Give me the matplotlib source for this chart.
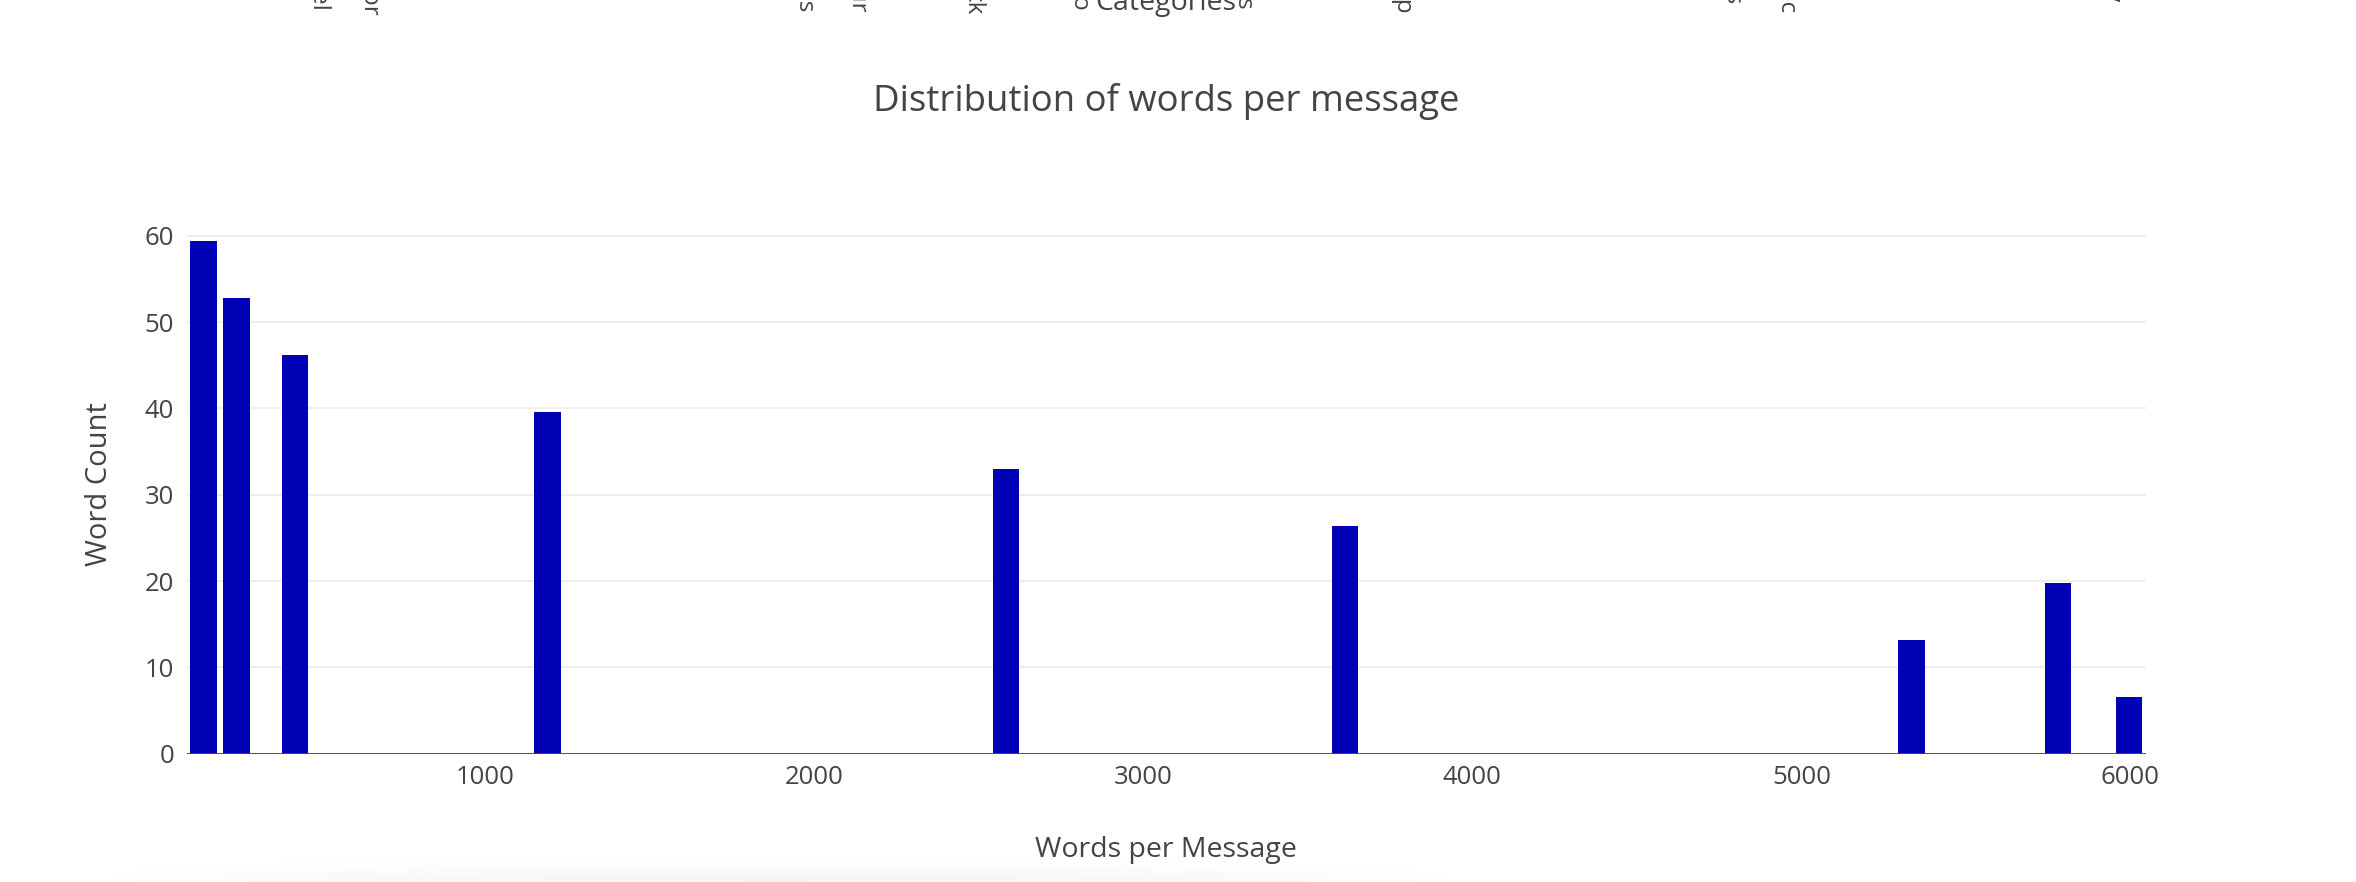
import matplotlib
matplotlib.use("Agg")
import matplotlib.pyplot as plt
import numpy as np

# words-per-message bins (bar centres) and counts
words_per_message = [143, 244, 422, 1189, 2582, 3613, 5334, 5780, 5996]
word_count = [59.4, 52.8, 46.2, 39.6, 33.0, 26.4, 13.2, 19.8, 6.6]
x_ticks = [1000, 2000, 3000, 4000, 5000, 6000]
y_ticks = [0, 10, 20, 30, 40, 50, 60]

# leftovers of the chart above, clipped at the top edge: (x px, bottom px, text)
clipped_labels = [(268, 2, "l_"), (317, 13, "rel"), (370, 15, "vor"), (642, 2, "ng"),
                  (804, 13, "sis"), (857, 14, "our"), (973, 15, "ck"), (1078, 12, "io"),
                  (1242, 12, "ns"), (1403, 13, "_p"), (1732, 5, "es"), (1786, 14, "doc"),
                  (2112, 2, "gy")]

W, H = 2356, 882
plt.rcParams["font.family"] = ["Open Sans", "DejaVu Sans"]
fig = plt.figure(figsize=(W / 100, H / 100), dpi=100)

# faint shadow at the bottom edge (drawn underneath everything)
gax = fig.add_axes([0, 0, 1, 24 / H], zorder=-5)
gx = np.linspace(0, 1, 400)
gy = np.linspace(0, 1, 24)
GX, GY = np.meshgrid(gx, gy)
shade = np.clip(1 - ((GX - 0.33) / 0.3) ** 2, 0, 1) * (1 - GY) * 0.045
gax.imshow(1 - shade, cmap="gray", vmin=0, vmax=1, aspect="auto", origin="lower")
gax.axis("off")

ax = fig.add_axes([186.7 / W, 1 - 753.7 / H, (2145.7 - 186.7) / W, (753.7 - 214) / H])
ax.patch.set_alpha(0)

x = np.array(words_per_message)
dx = np.min(np.diff(x))
ax.bar(x, word_count, width=0.8 * dx, color="#0000b4", zorder=3)
ax.set_xlim(x[0] - dx / 2, x[-1] + dx / 2)
ax.set_ylim(0, max(word_count) * 1.0526)

ax.set_xticks(x_ticks)
ax.set_yticks(y_ticks)
ax.tick_params(length=0, labelsize=18.5, labelcolor="#444444")
ax.tick_params(axis="x", pad=8)
ax.tick_params(axis="y", pad=9)
for yt in y_ticks[1:]:
    ax.axhline(yt, color="#eeeeee", lw=1.4, zorder=1)
ax.axhline(0, color="#444444", lw=2, zorder=4)
for s in ax.spines.values():
    s.set_visible(False)

ax.set_xlabel("Words per Message", fontsize=20.5, color="#444444", labelpad=33)
ax.set_ylabel("Word Count", fontsize=21, color="#444444", labelpad=22)

fig.text(1166 / W, 1 - 101 / H, "Distribution of words per message",
         ha="center", va="center", fontsize=26.3, color="#444444")

# clipped remains of the previous chart's axis
fig.text(1166 / W, 1 - 10 / H, "Categories", ha="center", va="baseline",
         fontsize=20.5, color="#444444")
for px, pb, t in clipped_labels:
    fig.text(px / W, 1 - pb / H, t, rotation=-90, ha="center", va="bottom",
             fontsize=17.5, color="#444444")

fig.savefig("out.png", dpi=100, facecolor="white")
